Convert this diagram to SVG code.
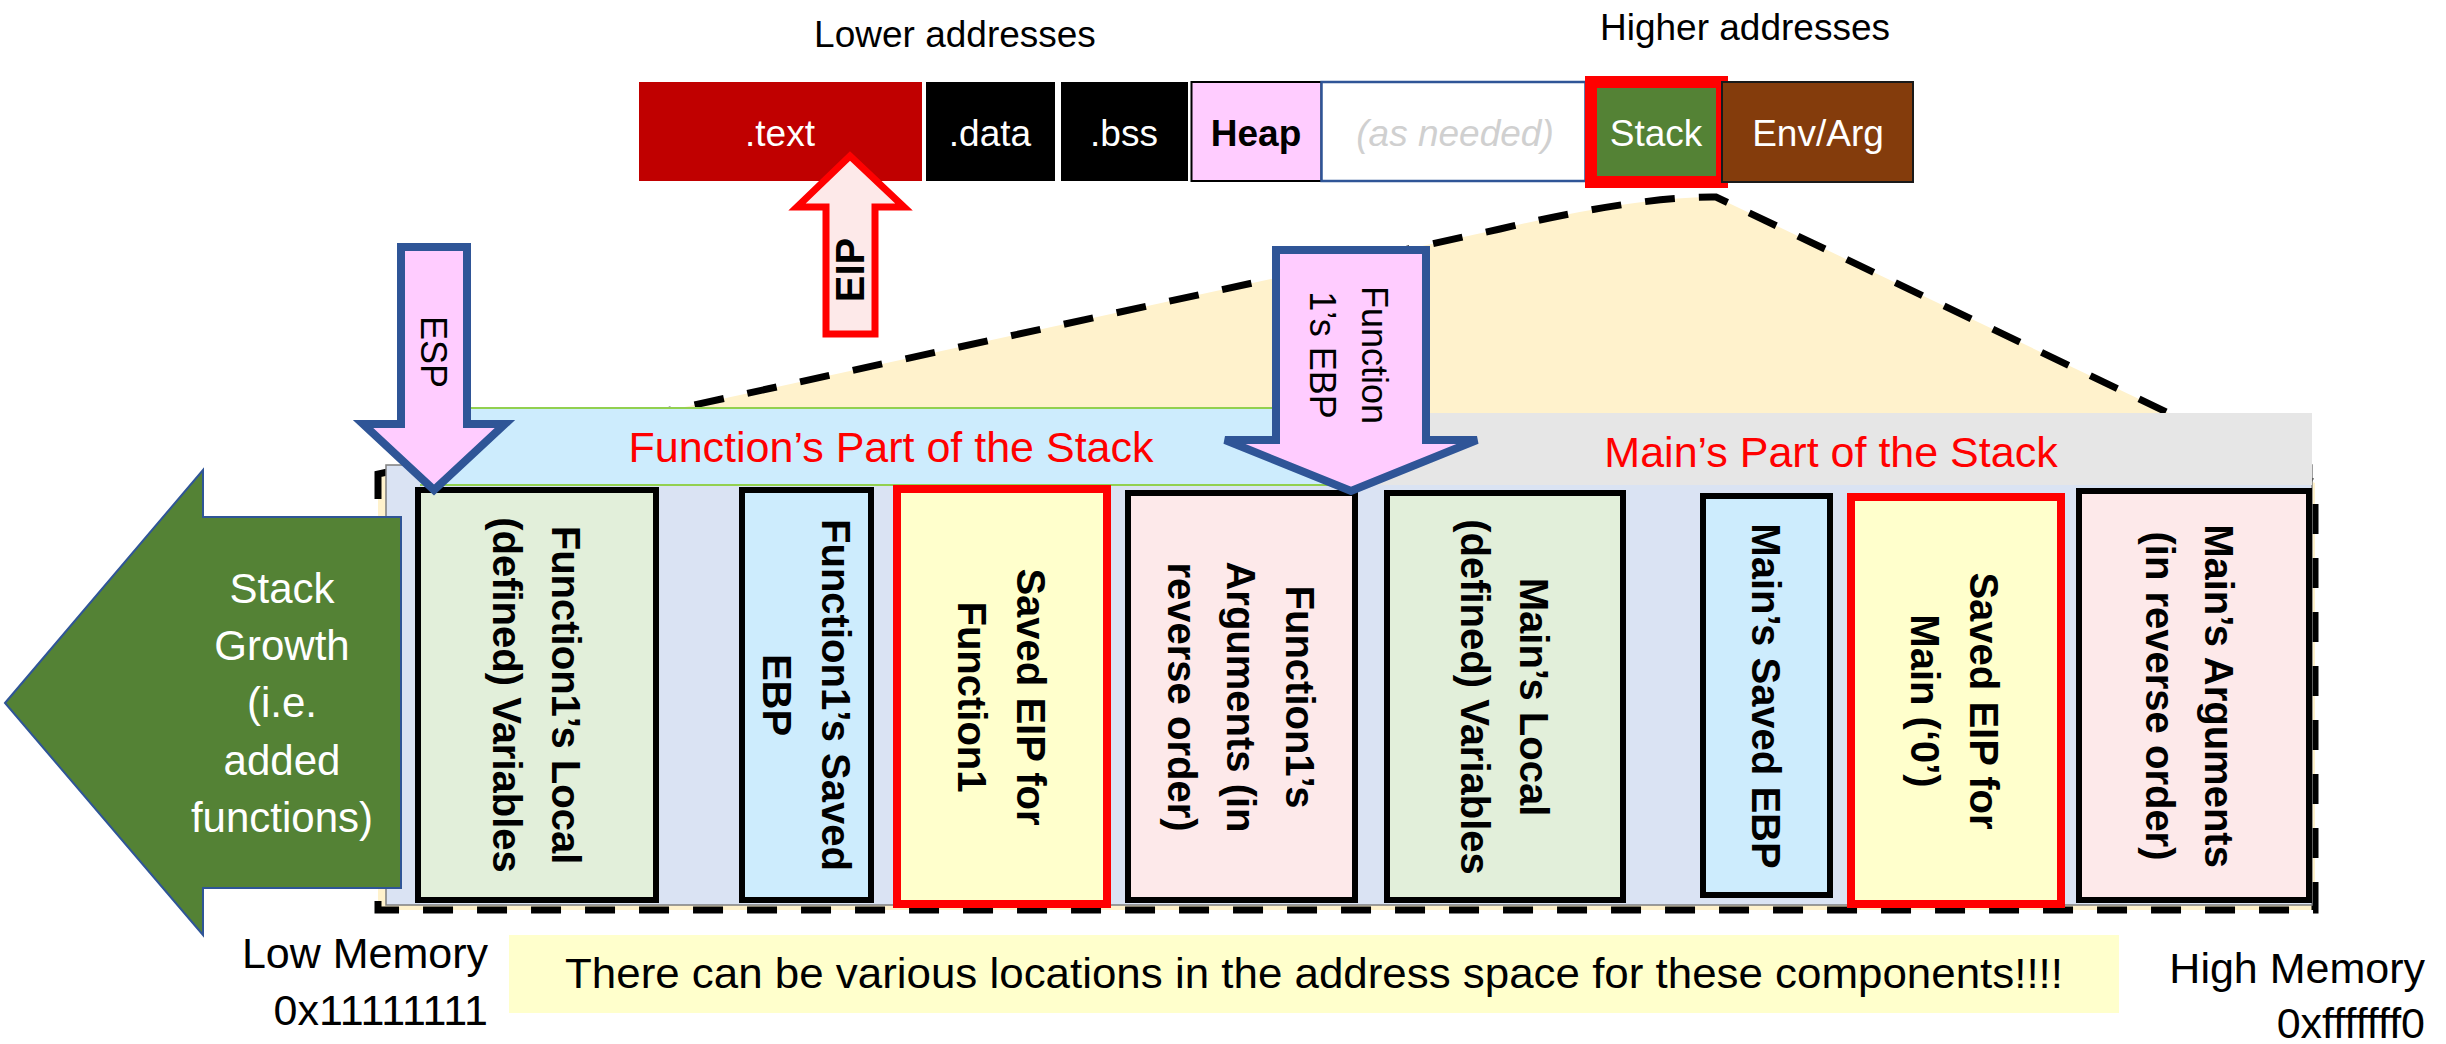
<svg xmlns="http://www.w3.org/2000/svg" width="2446" height="1044" viewBox="0 0 2446 1044">
<style>
text{font-family:"Liberation Sans",Arial,sans-serif;fill:#000}
.top{font-size:37px;text-anchor:middle}
.wt{fill:#fff}
.band{font-size:43px;text-anchor:middle;fill:#f00}
.grow{font-size:42px;text-anchor:middle;fill:#fff}
.box{stroke:#000;stroke-width:6}
.red{stroke:#f00;stroke-width:8;fill:#ffffcc}
.green{fill:#e2efda}
.blue{fill:#cdecfd}
.pink{fill:#fde9ea}
.bt{font-size:40px;font-weight:bold;text-anchor:middle}
.ptr{fill:#ffccff;stroke:#2f5597;stroke-width:8}
.pt{font-size:36px;text-anchor:middle}
.mem{font-size:43px;text-anchor:end}
</style>
<rect x="0" y="0" width="2446" height="1044" fill="#fff"/>

<!-- zoom callout (connectors) -->
<g id="connectors">
  <path d="M378,474 L1500,229 Q1640,196 1716,197 L2315,483 L2315,910 L378,910 Z" fill="#fff2cc" stroke="#000" stroke-width="7" stroke-dasharray="30 24"/>
</g>

<!-- memory map -->
<g id="memory-map">
  <text class="top" x="955" y="47">Lower addresses</text>
  <text class="top" x="1745" y="40">Higher addresses</text>
  <g id="seg-text">
    <rect x="639" y="82" width="283" height="99" fill="#c00000"/>
    <text class="top wt" x="780" y="146">.text</text>
  </g>
  <g id="seg-data">
    <rect x="926" y="82" width="129" height="99" fill="#000"/>
    <text class="top wt" x="990" y="146">.data</text>
  </g>
  <g id="seg-bss">
    <rect x="1061" y="82" width="127" height="99" fill="#000"/>
    <text class="top wt" x="1124" y="146">.bss</text>
  </g>
  <g id="seg-heap">
    <rect x="1191.5" y="82" width="130" height="99" fill="#ffccff" stroke="#000" stroke-width="2"/>
    <text class="top" x="1256" y="146" font-weight="bold">Heap</text>
  </g>
  <g id="seg-free">
    <rect x="1321.5" y="82" width="264" height="99" fill="#fff" stroke="#2f5597" stroke-width="2.5"/>
    <text class="top" x="1455" y="146" font-style="italic" style="fill:#d0d0d0">(as needed)</text>
  </g>
  <g id="seg-stack">
    <rect x="1591" y="82" width="131" height="100" fill="#548235" stroke="#f00" stroke-width="12"/>
    <text class="top wt" x="1656" y="146">Stack</text>
  </g>
  <g id="seg-env">
    <rect x="1722" y="82" width="191" height="100" fill="#843c0c" stroke="#1a1a1a" stroke-width="2"/>
    <text class="top wt" x="1818" y="146">Env/Arg</text>
  </g>
</g>

<!-- stack frame background -->
<g id="stack-frame">
  <rect x="386" y="465" width="1926" height="440" fill="#dae3f3" stroke="#7f7f7f" stroke-width="1.5"/>
</g>

<g id="function-part">
  <rect x="420" y="408" width="940" height="77" fill="#cdecfd"/>
  <line x1="420" y1="408" x2="1360" y2="408" stroke="#92d050" stroke-width="2"/>
  <line x1="420" y1="485" x2="1360" y2="485" stroke="#92d050" stroke-width="2"/>
  <text class="band" x="891" y="462">Function’s Part of the Stack</text>
</g>
<g id="main-part">
  <rect x="1360" y="413" width="952" height="72" fill="#e6e6e6"/>
  <text class="band" x="1831" y="467">Main’s Part of the Stack</text>
</g>

<!-- stack boxes -->
<g id="f1-locals">
  <rect class="box green" x="418" y="490" width="238" height="410"/>
  <g transform="translate(537,695) rotate(90)">
    <text class="bt" y="-15.2">Function1’s Local</text>
    <text class="bt" y="43.8">(defined) Variables</text>
  </g>
</g>
<g id="f1-saved-ebp">
  <rect class="box blue" x="742" y="490" width="129" height="410"/>
  <g transform="translate(806.5,695) rotate(90)">
    <text class="bt" y="-15.2">Function1’s Saved</text>
    <text class="bt" y="43.8">EBP</text>
  </g>
</g>
<g id="f1-saved-eip">
  <rect class="red" x="897" y="489" width="210" height="415"/>
  <g transform="translate(1002,697) rotate(90)">
    <text class="bt" y="-15.2">Saved EIP for</text>
    <text class="bt" y="43.8">Function1</text>
  </g>
</g>
<g id="f1-args">
  <rect class="box pink" x="1128" y="493" width="227" height="407"/>
  <g transform="translate(1241.5,697) rotate(90)">
    <text class="bt" y="-44.7">Function1’s</text>
    <text class="bt" y="14.3">Arguments (in</text>
    <text class="bt" y="73.3">reverse order)</text>
  </g>
</g>
<g id="main-locals">
  <rect class="box green" x="1387" y="493" width="236" height="407"/>
  <g transform="translate(1505,697) rotate(90)">
    <text class="bt" y="-15.2">Main’s Local</text>
    <text class="bt" y="43.8">(defined) Variables</text>
  </g>
</g>
<g id="main-saved-ebp">
  <rect class="box blue" x="1703" y="496" width="127" height="399"/>
  <g transform="translate(1766.5,696) rotate(90)">
    <text class="bt" y="14.3">Main’s Saved EBP</text>
  </g>
</g>
<g id="main-saved-eip">
  <rect class="red" x="1851" y="497" width="210" height="407"/>
  <g transform="translate(1955,701) rotate(90)">
    <text class="bt" y="-15.2">Saved EIP for</text>
    <text class="bt" y="43.8">Main (‘0’)</text>
  </g>
</g>
<g id="main-args">
  <rect class="box pink" x="2079" y="491" width="230" height="409"/>
  <g transform="translate(2190,696) rotate(90)">
    <text class="bt" y="-15.2">Main’s Arguments</text>
    <text class="bt" y="43.8">(in reverse order)</text>
  </g>
</g>

<!-- stack growth arrow -->
<g id="stack-growth">
  <path d="M5,703 L203,470 L203,517 L401,517 L401,888 L203,888 L203,935 Z" fill="#548235" stroke="#2f5597" stroke-width="2"/>
  <text class="grow" x="282" y="603">Stack</text>
  <text class="grow" x="282" y="660">Growth</text>
  <text class="grow" x="282" y="717">(i.e.</text>
  <text class="grow" x="282" y="775">added</text>
  <text class="grow" x="282" y="832">functions)</text>
</g>

<!-- pointers -->
<g id="eip-pointer">
  <path d="M850,156 L904,207 L875,207 L875,334 L826,334 L826,207 L797,207 Z" fill="#fde9e9" stroke="#f00" stroke-width="7"/>
  <g transform="translate(850,270) rotate(-90)">
    <text class="pt" y="14.3" font-weight="bold" style="font-size:40px">EIP</text>
  </g>
</g>
<g id="esp-pointer">
  <path class="ptr" d="M401,247 L467,247 L467,424 L505,424 L434,490 L363,424 L401,424 Z"/>
  <g transform="translate(434,352) rotate(90)">
    <text class="pt" y="12.9">ESP</text>
  </g>
</g>
<g id="ebp-pointer">
  <path class="ptr" d="M1276,250 L1426,250 L1426,440 L1477,440 L1351,491 L1225,440 L1276,440 Z"/>
  <g transform="translate(1351,355) rotate(90)">
    <text class="pt" y="-11">Function</text>
    <text class="pt" y="41">1’s EBP</text>
  </g>
</g>

<!-- bottom notes -->
<g id="note">
  <rect x="509" y="935" width="1610" height="78" fill="#ffffcc"/>
  <text x="1314" y="988" text-anchor="middle" style="font-size:43px" textLength="1498" lengthAdjust="spacingAndGlyphs">There can be various locations in the address space for these components!!!!</text>
</g>
<g id="low-memory">
  <text class="mem" x="488" y="968">Low Memory</text>
  <text class="mem" x="488" y="1025">0x11111111</text>
</g>
<g id="high-memory">
  <text class="mem" x="2425" y="983">High Memory</text>
  <text class="mem" x="2425" y="1038">0xfffffff0</text>
</g>
</svg>
